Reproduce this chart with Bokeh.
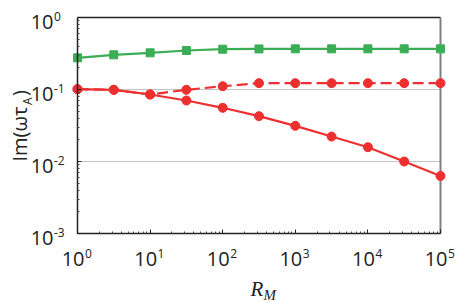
import numpy as np
from bokeh.plotting import figure
from bokeh.models import (Range1d, FixedTicker, LabelSet, Label, ColumnDataSource)
from bokeh.embed import file_html
from bokeh.resources import INLINE
from bokeh.core.properties import value

# ---- data ----
rm = [1, 3.16, 10, 31.6, 100, 316, 1000, 3162, 10000, 31623, 100000]
green = [0.275, 0.303, 0.323, 0.348, 0.363, 0.366, 0.367, 0.367, 0.367, 0.367, 0.367]
red_dashed = [0.101, 0.099, 0.0853, 0.099, 0.111, 0.1225, 0.1225, 0.1225, 0.1225, 0.1225, 0.1225]
red_solid = [0.101, 0.099, 0.0853, 0.0703, 0.0557, 0.0426, 0.0313, 0.0222, 0.0158, 0.0100, 0.0063]

x_major = [1, 10, 100, 1000, 10000, 100000]
x_exp = ["0", "1", "2", "3", "4", "5"]
y_major = [1, 0.1, 0.01, 0.001]
y_exp = ["0", "-1", "-2", "-3"]
y_grid = [0.1, 0.01]

XMIN, XMAX = 1, 1e5
YMIN, YMAX = 1e-3, 1

GREEN = "#3aad55"
RED = "#ee2f2f"
INK = "#222222"
FONT = "Open Sans"

W, H = 460, 302
# plot box inside the canvas (pixels): left, right, top, bottom
BL, BR, BT, BB = 77, 440, 17, 233
xdec = (BR - BL) / 5.0
ydec = (BB - BT) / 3.0
x_lo = 10 ** (0 - BL / xdec)
x_hi = 10 ** (5 + (W - BR) / xdec)
y_hi = 10 ** (0 + BT / ydec)
y_lo = 10 ** (-3 - (H - BB) / ydec)

p = figure(width=W, height=H, x_axis_type="log", y_axis_type="log",
           x_range=Range1d(x_lo, x_hi), y_range=Range1d(y_lo, y_hi),
           output_backend="svg", toolbar_location=None,
           min_border_left=0, min_border_right=0, min_border_top=0, min_border_bottom=0)
p.outline_line_color = None
p.background_fill_color = "white"
p.border_fill_color = "white"
p.grid.visible = False

x_minor = [m * d for d in [1, 10, 100, 1000, 10000] for m in range(2, 10)]
y_minor = [m * d for d in [0.001, 0.01, 0.1] for m in range(2, 10)]

xa = p.xaxis[0]
ya = p.yaxis[0]
xa.ticker = FixedTicker(ticks=x_major, minor_ticks=x_minor)
ya.ticker = FixedTicker(ticks=y_major, minor_ticks=y_minor)
xa.fixed_location = YMIN
ya.fixed_location = XMIN
xa.bounds = (XMIN, XMAX)
ya.bounds = (YMIN, YMAX)
for ax in (xa, ya):
    ax.major_label_overrides = {t: " " for t in (x_major + y_major)}
    ax.major_label_text_font_size = "2px"
    ax.major_label_text_alpha = 0
    ax.major_label_standoff = 0
    ax.major_tick_in = 4
    ax.major_tick_out = 0
    ax.minor_tick_in = 2
    ax.minor_tick_out = 0
    ax.axis_line_color = INK
    ax.axis_line_width = 1.5
    ax.major_tick_line_color = INK
    ax.minor_tick_line_color = "#444444"

# grid lines at the decades inside the box
p.segment(x0=[XMIN] * len(y_grid), y0=y_grid, x1=[XMAX] * len(y_grid), y1=y_grid,
          line_color="#c4c4c4", line_width=1)
# top (black) and right (grey) borders of the box
p.segment(x0=[XMIN], y0=[YMAX], x1=[XMAX], y1=[YMAX], line_color=INK, line_width=1.3)
p.segment(x0=[XMAX], y0=[YMIN], x1=[XMAX], y1=[YMAX], line_color="#808080", line_width=2)

# ---- series ----
p.line(rm, green, line_color=GREEN, line_width=2.2)
p.scatter(rm, green, marker="square", size=8, fill_color=GREEN, line_color=GREEN)
p.line(rm, red_dashed, line_color=RED, line_width=2.2, line_dash="11 5")
p.line(rm, red_solid, line_color=RED, line_width=2.2)
p.scatter(rm, red_dashed, marker="circle", size=9, fill_color=RED, line_color=RED)
p.scatter(rm, red_solid, marker="circle", size=9, fill_color=RED, line_color=RED)

# ---- tick labels ----
xs = ColumnDataSource(dict(x=x_major, y=[YMIN] * len(x_major), t=["10"] * len(x_major), e=x_exp))
p.add_layout(LabelSet(x="x", y="y", text="t", source=xs, x_offset=7, y_offset=-32,
                      text_align="right", text_baseline="alphabetic",
                      text_font=value(FONT), text_font_size=value("20px"), text_color=INK))
p.add_layout(LabelSet(x="x", y="y", text="e", source=xs, x_offset=7.5, y_offset=-24,
                      text_align="left", text_baseline="alphabetic",
                      text_font=value(FONT), text_font_size=value("12px"), text_color=INK))

ys = ColumnDataSource(dict(x=[XMIN] * len(y_major), y=y_major, t=["10"] * len(y_major), e=y_exp))
p.add_layout(LabelSet(x="x", y="y", text="t", source=ys, x_offset=-24, y_offset=-11,
                      text_align="right", text_baseline="alphabetic",
                      text_font=value(FONT), text_font_size=value("20px"), text_color=INK))
p.add_layout(LabelSet(x="x", y="y", text="e", source=ys, x_offset=-23.5, y_offset=-3,
                      text_align="left", text_baseline="alphabetic",
                      text_font=value(FONT), text_font_size=value("12px"), text_color=INK))

# ---- axis titles ----
ycen = 10 ** -1.5
p.add_layout(Label(x=XMIN, y=ycen, text="Im(ωτ", angle=np.pi / 2, x_offset=-58, y_offset=-36,
                   text_align="left", text_baseline="alphabetic",
                   text_font=FONT, text_font_size="20px", text_color=INK))
p.add_layout(Label(x=XMIN, y=ycen, text="A", angle=np.pi / 2, x_offset=-50, y_offset=20.5,
                   text_align="left", text_baseline="alphabetic",
                   text_font=FONT, text_font_size="12px", text_color=INK))
p.add_layout(Label(x=XMIN, y=ycen, text=")", angle=np.pi / 2, x_offset=-58, y_offset=29.5,
                   text_align="left", text_baseline="alphabetic",
                   text_font=FONT, text_font_size="20px", text_color=INK))

xcen = 10 ** 2.5
p.add_layout(Label(x=xcen, y=YMIN, text="R", x_offset=-8.5, y_offset=-55,
                   text_align="left", text_baseline="alphabetic",
                   text_font="Liberation Serif", text_font_style="italic",
                   text_font_size="21px", text_color=INK))
p.add_layout(Label(x=xcen, y=YMIN, text="M", x_offset=4.5, y_offset=-61,
                   text_align="left", text_baseline="alphabetic",
                   text_font="Liberation Serif", text_font_style="italic",
                   text_font_size="15px", text_color=INK))

open("out.html", "w").write(file_html(p, INLINE))
